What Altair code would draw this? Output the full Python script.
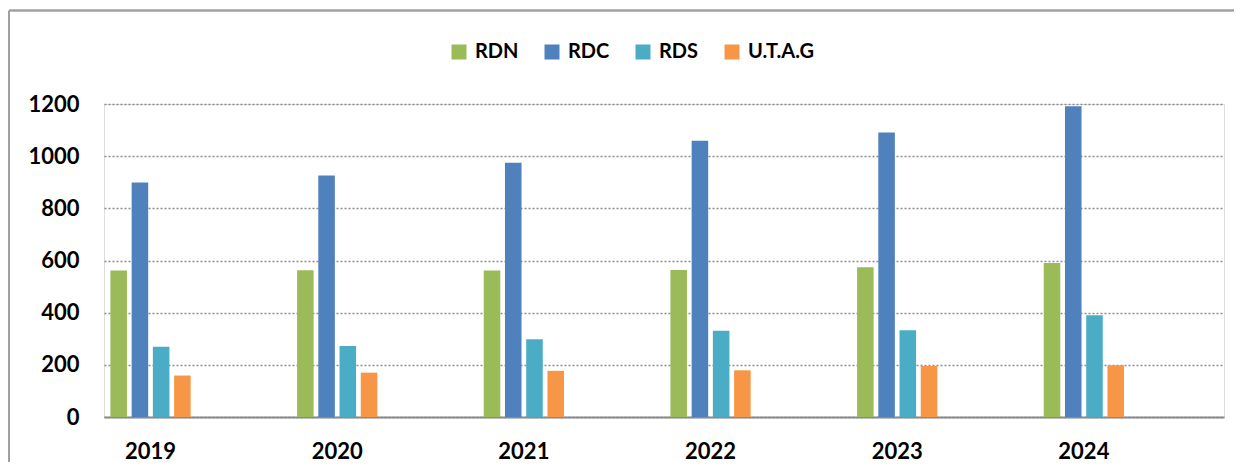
import altair as alt
import pandas as pd

years = ["2019", "2020", "2021", "2022", "2023", "2024"]
series = ["RDN", "RDC", "RDS", "U.T.A.G"]
rdn = [562, 563, 562, 564, 574, 590]
rdc = [899, 926, 975, 1059, 1091, 1191]
rds = [269, 272, 298, 331, 333, 390]
utag = [159, 170, 177, 179, 196, 198]
colors = ["#9BBB59", "#4F81BD", "#4BACC6", "#F79646"]
y_ticks = [0, 200, 400, 600, 800, 1000, 1200]

rows = []
for name, vals in zip(series, [rdn, rdc, rds, utag]):
    for yr, v in zip(years, vals):
        rows.append({"year": yr, "series": name, "value": v})
df = pd.DataFrame(rows)

W, H = 1120, 313
FONT = "Lato"

bars = alt.Chart(df).mark_bar().encode(
    x=alt.X(
        "year:N",
        sort=years,
        scale=alt.Scale(paddingInner=0.545, paddingOuter=0.2725, align=0.04),
        axis=alt.Axis(
            title=None, labelAngle=0, ticks=False, grid=False,
            domainColor="#8a8a8a", domainWidth=2,
            labelFont=FONT, labelFontWeight="bold", labelFontSize=22,
            labelColor="#000000", labelPadding=24,
        ),
    ),
    xOffset=alt.XOffset(
        "series:N", sort=series,
        scale=alt.Scale(paddingInner=0.22, paddingOuter=0.11),
    ),
    y=alt.Y(
        "value:Q",
        scale=alt.Scale(domain=[0, 1200], nice=False),
        axis=alt.Axis(
            title=None, values=y_ticks, format="d", domain=False, ticks=False,
            grid=True, gridColor="#8c8c8c", gridDash=[2, 2], gridWidth=1.5,
            labelFont=FONT, labelFontWeight="bold", labelFontSize=22,
            labelColor="#000000", labelPadding=25,
        ),
    ),
    color=alt.Color(
        "series:N", sort=series,
        scale=alt.Scale(domain=series, range=colors),
        legend=alt.Legend(
            title=None, orient="none", direction="horizontal",
            legendX=345, legendY=-62, padding=0,
            symbolType="square", symbolSize=225, symbolStrokeWidth=0,
            symbolOpacity=1,
            labelFont=FONT, labelFontWeight="bold", labelFontSize=20,
            labelColor="#000000", labelOffset=6, columnPadding=23,
        ),
    ),
)

frame_df = pd.DataFrame({"k": [0]})
top_line = alt.Chart(frame_df).mark_rule(color="#a0a0a0", strokeWidth=2.5).encode(
    x=alt.value(-95), x2=alt.value(W + 10), y=alt.value(-93.5)
)
left_line = alt.Chart(frame_df).mark_rule(color="#a0a0a0", strokeWidth=2).encode(
    x=alt.value(-95), y=alt.value(-93.5), y2=alt.value(H + 45)
)

chart = alt.layer(bars, top_line, left_line).properties(
    width=W, height=H,
    autosize=alt.AutoSizeParams(type="none"),
    padding={"left": 96, "top": 96, "right": 10, "bottom": 45},
).configure_view(
    stroke=None, strokeWidth=0
).configure(background="#ffffff")

chart.save("out.html", embed_options={"renderer": "svg", "actions": False})
